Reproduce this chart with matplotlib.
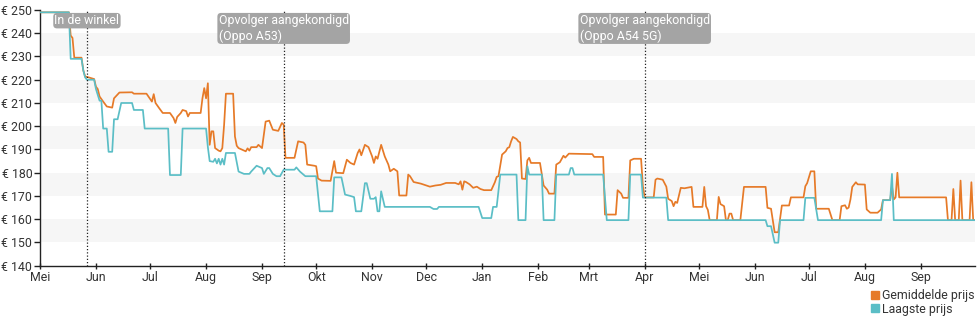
import numpy as np
import matplotlib
matplotlib.use("Agg")
import matplotlib.pyplot as plt
from matplotlib.lines import Line2D

plt.rcParams["font.family"] = ["Roboto", "DejaVu Sans"]

# Price history, days counted from the first day of the x range
START = np.datetime64("2020-05-01")
END = np.datetime64("2021-10-01")

avg_day = [0, 16, 17, 18, 19, 23, 24, 25, 27, 30, 31, 32, 33, 35, 37, 40, 41, 44, 51, 52,
           59, 62, 63, 64, 66, 68, 72, 74, 75, 76, 78, 79, 81, 82, 83, 89, 90, 91, 92, 93,
           94, 95, 96, 97, 99, 100, 101, 102, 103, 107, 108, 109, 110, 114, 115, 116, 117, 120, 121, 123,
           125, 127, 129, 132, 134, 135, 136, 141, 143, 146, 147, 148, 152, 153, 154, 156, 161, 163, 164, 168,
           170, 172, 174, 176, 177, 178, 180, 182, 184, 185, 186, 187, 189, 191, 193, 194, 196, 198, 199, 203,
           204, 205, 207, 211, 216, 219, 222, 225, 230, 232, 233, 234, 235, 236, 238, 240, 242, 244, 246, 250,
           252, 253, 254, 256, 258, 259, 260, 261, 262, 264, 265, 266, 267, 269, 270, 271, 272, 277, 279, 281,
           282, 285, 286, 288, 290, 291, 293, 306, 307, 312, 313, 319, 320, 322, 323, 326, 327, 329, 333, 334,
           335, 340, 341, 342, 345, 347, 348, 350, 351, 352, 353, 355, 357, 361, 362, 367, 368, 369, 370, 371,
           375, 376, 377, 379, 380, 381, 382, 383, 384, 388, 390, 402, 403, 405, 407, 409, 411, 415, 416, 423,
           424, 425, 427, 429, 430, 437, 439, 443, 444, 446, 447, 448, 449, 450, 452, 453, 457, 458, 460, 464,
           466, 467, 471, 472, 473, 474, 475, 476, 502, 503, 505, 506, 507, 509, 510, 511, 515, 516, 517, 518]
avg_price = [249, 249, 239, 238, 229.5, 229.5, 224, 221.4, 221, 220.3, 217, 216, 212.8, 210.6, 208.5, 208, 212, 214.5, 214.6, 214,
             214, 210.6, 213.8, 210, 207.8, 205.7, 205.7, 203.5, 201.4, 204, 205.7, 207, 206.5, 204.2, 205.7, 205.7, 212, 216.4, 212, 218.5,
             192, 197.8, 197.8, 190.6, 189.5, 189.2, 190.6, 200.6, 214, 214, 195.6, 191.6, 190.6, 189.2, 190.5, 189.5, 191, 191, 192, 190.6,
             202, 202.4, 198.5, 198, 201.4, 200.7, 186.4, 186.4, 193.5, 193, 192, 183.5, 183, 182.8, 177.5, 176.6, 176.5, 185, 180, 179.8,
             185.6, 184.2, 183.5, 188.5, 190, 187.5, 192, 191, 187, 184.2, 187, 186, 192, 187, 183.5, 180.6, 181.7, 180.6, 170.2, 170.2,
             179.2, 178.5, 176, 175.3, 174, 174.5, 174.8, 175.6, 175.6, 175, 176.3, 172.7, 176.3, 176, 175, 173.5, 174, 173, 172.5, 172.5,
             175.9, 178.2, 178.5, 187.8, 189.2, 190.6, 191, 193.5, 195.4, 194.5, 193.5, 193, 177.5, 177.3, 185.3, 186.4, 184.2, 184.2, 174.5, 172.7,
             171, 171, 183.5, 184.5, 187.3, 186.5, 188.2, 188, 186.8, 186.8, 162, 162, 172.5, 171, 169.2, 169.2, 185.3, 186, 186, 174.2,
             169.4, 169.4, 177, 177.5, 177, 174, 168.8, 167.8, 165.6, 167.5, 167, 173.5, 173.3, 173.9, 165.3, 165.3, 173.9, 165.6, 164, 159.6,
             159.6, 169.6, 166.5, 165.6, 159.6, 159.6, 162.4, 162.4, 159.6, 159.6, 173.9, 173.9, 164.9, 164.5, 154.4, 154.4, 165.9, 165.9, 169.4, 169.4,
             174.2, 175.5, 180.6, 180.6, 164.5, 164.5, 159.6, 159.6, 165.6, 166, 164.5, 165, 168.5, 173.9, 175.9, 175, 174.9, 164.2, 162.8, 162.8,
             164.2, 168.2, 168.2, 174.2, 168.5, 169.4, 180, 169.4, 169.4, 159.6, 159.6, 173, 159.6, 159.6, 176.6, 159.6, 159.6, 175.9, 159.6, 159.6]

low_day = [0, 16, 17, 23, 24, 25, 26, 30, 31, 33, 34, 35, 37, 38, 40, 41, 43, 45, 51, 52,
           57, 58, 71, 72, 78, 79, 92, 93, 94, 96, 97, 98, 99, 100, 101, 102, 103, 108, 110, 113,
           116, 117, 120, 123, 124, 126, 127, 129, 131, 133, 135, 141, 142, 144, 147, 153, 155, 162, 163, 167,
           169, 172, 174, 175, 178, 180, 181, 183, 185, 186, 187, 188, 189, 191, 216, 218, 220, 221, 243, 245,
           250, 251, 253, 255, 264, 265, 269, 270, 271, 278, 279, 285, 286, 293, 294, 295, 296, 312, 314, 326,
           327, 333, 334, 347, 348, 402, 403, 405, 407, 409, 410, 423, 424, 429, 431, 466, 467, 471, 472, 473,
           518]
low_price = [249, 249, 229, 229, 224, 221, 220, 220, 216, 211, 211, 199, 199, 189, 189, 203, 203, 210, 210, 207,
             207, 199, 199, 179, 179, 199, 199, 191, 185, 184.7, 186, 184, 186, 183.5, 186, 183.5, 188.5, 188.5, 180.5, 179.5,
             179.5, 180.5, 183, 182, 179.5, 182, 182, 179.5, 178.5, 178.5, 181.3, 181.3, 182.3, 180.5, 178.5, 178.5, 163.4, 163.4, 178, 178,
             170.6, 170, 169.5, 163.4, 163.4, 175.5, 175.5, 168.8, 168.8, 169.5, 163.4, 163.4, 172, 165.3, 165.3, 164.4, 164.4, 165.3, 165.3, 160.5,
             160.5, 165.3, 165.3, 179.2, 179.2, 159.6, 159.6, 182.8, 179.2, 179.2, 159.6, 159.6, 179.2, 179.2, 182, 182, 179.2, 179.2, 159.6, 159.6,
             179.2, 179.2, 169.3, 169.3, 159.6, 159.6, 157, 157, 149.9, 149.9, 159.6, 159.6, 169.2, 169.2, 159.6, 159.6, 168.2, 168.2, 179.5, 159.6,
             159.6]

event_dates = ["2020-05-27", "2020-09-13", "2021-04-01"]
event_labels = ["In de winkel",
                "Opvolger aangekondigd\n(Oppo A53)",
                "Opvolger aangekondigd\n(Oppo A54 5G)"]

month_labels = ["Mei", "Jun", "Jul", "Aug", "Sep", "Okt", "Nov", "Dec", "Jan",
                "Feb", "Mrt", "Apr", "Mei", "Jun", "Jul", "Aug", "Sep"]
price_ticks = list(range(140, 251, 10))
series_labels = ["Gemiddelde prijs", "Laagste prijs"]

ORANGE = "#e67a28"
TEAL = "#5bbec6"
TEXT = "#333333"
FS = 8.9

fig = plt.figure(figsize=(9.8, 3.25), dpi=100)
ax = fig.add_axes([40 / 980, 1 - 265.7 / 325, 935 / 980, 255.7 / 325])

# alternating horizontal bands
for lo in range(150, 250, 20):
    ax.axhspan(lo, lo + 10, color="#f6f6f6", lw=0, zorder=0)

avg_dates = START + np.array(avg_day).astype("timedelta64[D]")
low_dates = START + np.array(low_day).astype("timedelta64[D]")
ax.plot(avg_dates, avg_price, color=ORANGE, lw=1.25, zorder=3)
ax.plot(low_dates, low_price, color=TEAL, lw=1.25, zorder=4)

for d, lab in zip(event_dates, event_labels):
    x = np.datetime64(d)
    ax.axvline(x, color="#222222", lw=0.9, ls=(0, (1, 1.6)), zorder=5)
    ax.annotate(lab, xy=(x, 1), xycoords=("data", "axes fraction"),
                xytext=(0, -3.0), textcoords="offset points",
                ha="center", va="top", multialignment="left",
                color="white", fontsize=FS, zorder=6,
                bbox=dict(boxstyle="round,pad=0.1,rounding_size=0.3",
                          fc="#a4a4a4", ec="none"))

ax.set_xlim(START, END)
ax.set_ylim(140, 250)

month_ticks = np.arange(START.astype("datetime64[M]"),
                        START.astype("datetime64[M]") + len(month_labels)).astype("datetime64[D]")
ax.set_xticks(month_ticks)
ax.set_xticklabels(month_labels)
ax.set_yticks(price_ticks)
ax.set_yticklabels([f"€ {v}" for v in price_ticks])

for s in ("top", "right"):
    ax.spines[s].set_visible(False)
for s in ("left", "bottom"):
    ax.spines[s].set_color("#222222")
    ax.spines[s].set_linewidth(1.0)

ax.tick_params(axis="y", length=4, width=1, color="#222222", labelsize=FS,
               labelcolor=TEXT, pad=1.5)
ax.tick_params(axis="x", length=4, width=1, color="#222222", labelsize=FS,
               labelcolor=TEXT, pad=1.5, direction="inout")

handles = [Line2D([], [], marker="s", ls="none", color=ORANGE, markersize=5.5),
           Line2D([], [], marker="s", ls="none", color=TEAL, markersize=5.5)]
fig.legend(handles, series_labels, loc="upper left",
           bbox_to_anchor=(871 / 980, 1 - 289 / 325), frameon=False,
           handlelength=0.6, handletextpad=0.25, labelspacing=0.05,
           borderpad=0, borderaxespad=0, fontsize=FS, labelcolor=TEXT)

fig.savefig("out.png", dpi=100)
